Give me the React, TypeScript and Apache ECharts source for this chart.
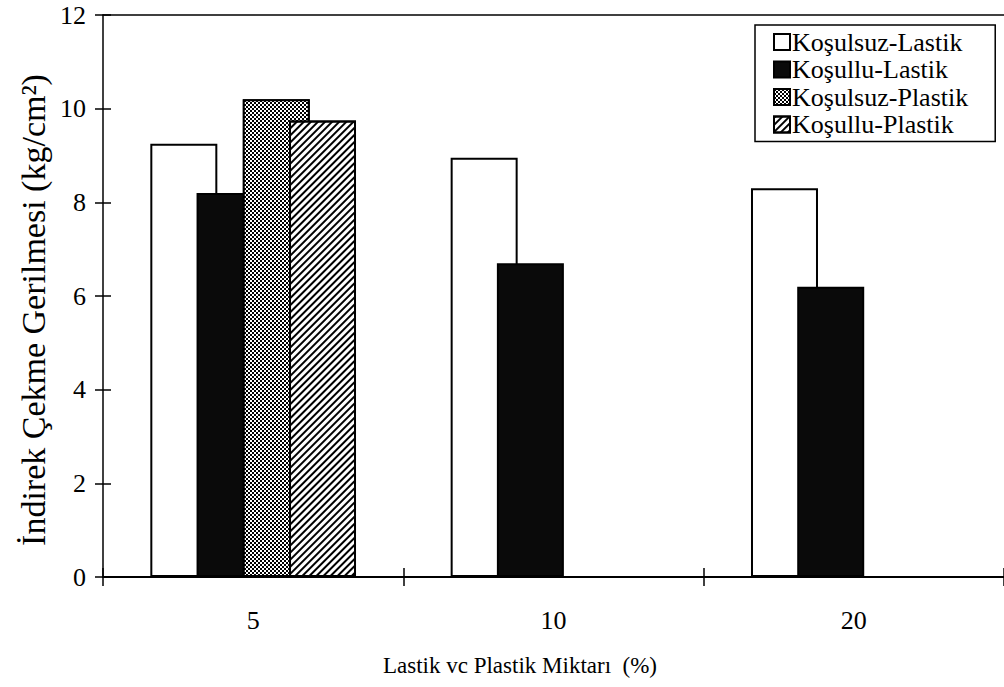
import React, { useEffect, useRef } from "react";
import * as echarts from "echarts";

const categories = ["5", "10", "20"];
const seriesNames = ["Koşulsuz-Lastik", "Koşullu-Lastik", "Koşulsuz-Plastik", "Koşullu-Plastik"];
const kosulsuzLastik = [9.25, 8.95, 8.3];
const kosulluLastik = [8.2, 6.7, 6.2];
const kosulsuzPlastik: (number | null)[] = [10.2, null, null];
const kosulluPlastik: (number | null)[] = [9.75, null, null];
const yTicks = { min: 0, max: 12, interval: 2 };

const FONT = '"Liberation Serif", "Times New Roman", serif';

export default function App() {
  const ref = useRef<HTMLDivElement>(null);
  useEffect(() => {
    if (!ref.current) return;
    const chart = echarts.init(ref.current, null, { renderer: "svg" });
    const border = { borderColor: "#000", borderWidth: 2 };
    const checkerDecal = {
      symbol: "rect",
      symbolSize: 1,
      color: "#fff",
      dashArrayX: [[2, 2], [0, 2, 2, 0]],
      dashArrayY: [2, 0],
    };
    const hatchDecal = {
      symbol: "rect",
      symbolSize: 1,
      color: "#000",
      dashArrayX: [1, 0],
      dashArrayY: [2, 3],
      rotation: -Math.PI / 4,
    };
    const values = [kosulsuzLastik, kosulluLastik, kosulsuzPlastik, kosulluPlastik];
    const styles: any[] = [
      { color: "#fff", ...border },
      { color: "#0a0a0a", ...border },
      { color: "#000", decal: checkerDecal, ...border },
      { color: "#fff", decal: hatchDecal, ...border },
    ];
    const catAxisBase = {
      type: "category",
      data: categories,
      gridIndex: 0,
    };
    chart.setOption({
      animation: false,
      backgroundColor: "#fff",
      textStyle: { fontFamily: FONT, color: "#000" },
      grid: { left: 103, right: 0, top: 15, bottom: 110, containLabel: false },
      legend: {
        orient: "vertical",
        left: 755,
        top: 25,
        data: seriesNames,
        icon: "rect",
        itemWidth: 16,
        itemHeight: 16,
        itemGap: 1.5,
        padding: [4, 27, 4, 18],
        borderColor: "#000",
        borderWidth: 1.5,
        textStyle: { fontFamily: FONT, fontSize: 26, lineHeight: 24, color: "#000", padding: [0, 0, 0, -3] },
      },
      xAxis: [
        {
          ...catAxisBase,
          position: "bottom",
          axisLine: { show: true, onZero: false, lineStyle: { color: "#000", width: 2 } },
          axisTick: { show: true, inside: false, length: 9, lineStyle: { color: "#000", width: 1.5 } },
          axisLabel: { fontFamily: FONT, fontSize: 26, color: "#000", margin: 30 },
        },
        {
          ...catAxisBase,
          position: "bottom",
          axisLine: { show: false, onZero: false },
          axisTick: { show: true, inside: true, length: 9, lineStyle: { color: "#000", width: 1.5 } },
          axisLabel: { show: false },
        },
        {
          ...catAxisBase,
          position: "top",
          axisLine: { show: true, onZero: false, lineStyle: { color: "#000", width: 1.5 } },
          axisTick: { show: false },
          axisLabel: { show: false },
        },
      ],
      yAxis: [
        {
          type: "value",
          ...yTicks,
          position: "left",
          splitLine: { show: false },
          axisLine: { show: true, onZero: false, lineStyle: { color: "#000", width: 1.5 } },
          axisTick: { show: true, inside: false, length: 8, lineStyle: { color: "#000", width: 1.5 } },
          axisLabel: { fontFamily: FONT, fontSize: 26, color: "#000", margin: 17 },
        },
        {
          type: "value",
          ...yTicks,
          position: "left",
          splitLine: { show: false },
          axisLine: { show: false, onZero: false },
          axisTick: { show: true, inside: true, length: 8, lineStyle: { color: "#000", width: 1.5 } },
          axisLabel: { show: false },
        },
      ],
      series: seriesNames.map((name, i) => ({
        name,
        type: "bar",
        xAxisIndex: 0,
        yAxisIndex: 0,
        data: values[i],
        barWidth: 67,
        barGap: "-31%",
        itemStyle: styles[i],
      })),
      graphic: [
        {
          type: "text",
          x: 33,
          y: 310,
          rotation: Math.PI / 2,
          style: {
            text: "İndirek Çekme Gerilmesi (kg/cm²)",
            fontFamily: FONT,
            fontSize: 34,
            fill: "#000",
            align: "center",
            verticalAlign: "middle",
          },
        },
        {
          type: "text",
          x: 520,
          y: 665,
          style: {
            text: "Lastik vc Plastik Miktarı  (%)",
            fontFamily: FONT,
            fontSize: 23,
            fill: "#000",
            align: "center",
            verticalAlign: "middle",
          },
        },
      ],
    });
    return () => chart.dispose();
  }, []);
  return (
    <div
      ref={ref}
      style={{ position: "fixed", left: 0, top: 0, width: 1004, height: 687, background: "#fff" }}
    />
  );
}
